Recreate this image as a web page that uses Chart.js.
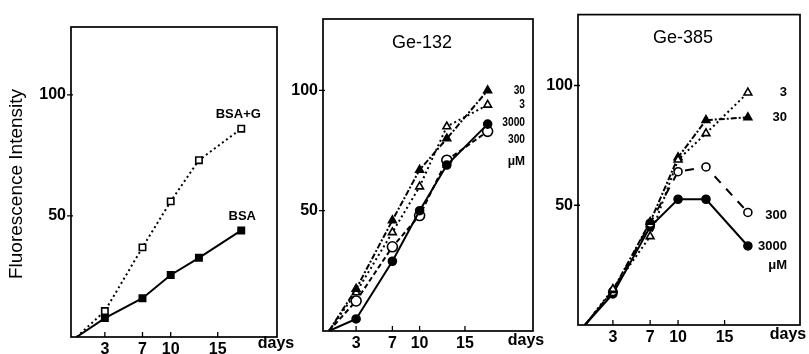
<!DOCTYPE html>
<html>
<head>
<meta charset="utf-8">
<script src="https://cdn.jsdelivr.net/npm/chart.js@4"></script>
<style>
  html, body { margin: 0; padding: 0; background: #fff; }
  body { width: 809px; height: 354px; position: relative; overflow: hidden; }
  canvas { position: absolute; top: 0; }
</style>
</head>
<body>
<canvas id="c1" width="300" height="354" style="left:0px"></canvas>
<canvas id="c2" width="280" height="354" style="left:270px"></canvas>
<canvas id="c3" width="269" height="354" style="left:540px"></canvas>
<script>
// sampling days (day 0 = origin, no marker)
const days = [0, 3, 7, 10, 13, 17.5];
const xTicks = [3, 7, 10, 15];
const yTicks = [50, 100];

// panel 1 - BSA glycation
const bsaG = [0, 10.7, 37, 56, 73, 86];
const bsa = [0, 7.8, 16, 25.6, 32.7, 44];

// panel 2 - Ge-132 (uM)
const ge132_30 = [0, 17.5, 46, 67, 80, 100];
const ge132_3 = [0, 16, 41, 60, 85, 94];
const ge132_3000 = [0, 5, 29, 50, 69, 86];
const ge132_300 = [0, 12.5, 35, 48, 71, 83];

// panel 3 - Ge-385 (uM)
const ge385_3 = [0, 15, 37, 69, 80, 97];
const ge385_30 = [0, 14.5, 43, 70, 85.5, 86.7];
const ge385_300 = [0, 14, 42.5, 64, 66, 47];
const ge385_3000 = [0, 13, 41, 52.5, 52.5, 33];

const FONT = '"Liberation Sans", Arial, Helvetica, sans-serif';
const YW = 40, XH = 22;

function pts(arr) {
    return days.map((d, i) => ({ x: d, y: arr[i] }));
}

// line + marker style helper
function series(arr, marker, filled, dash, tag, size) {
    return {
        data: pts(arr),
        borderColor: '#000',
        borderWidth: 2,
        borderDash: dash,
        borderCapStyle: 'butt',
        tension: 0,
        pointStyle: marker,
        pointRadius: ctx => ctx.dataIndex === 0 ? 0 : (size || 4.5),
        pointBorderWidth: 1.6,
        pointBorderColor: '#000',
        pointBackgroundColor: filled ? '#000' : '#fff',
        tag: tag
    };
}

const DOT = [2, 3], DASHDOT = [6, 2, 2, 2], DASH = [5, 3], LONGDASH = [9, 8];

// frame, inward x ticks, outward y ticks, free texts, series tags
const deco = {
    id: 'deco',
    afterDraw(chart, args, opts) {
        const c = chart.ctx, a = chart.chartArea;
        const sx = chart.scales.x, sy = chart.scales.y;
        c.save();
        c.strokeStyle = '#000';
        c.lineWidth = 1.7;
        c.strokeRect(a.left, a.top, a.right - a.left, a.bottom - a.top);
        c.lineWidth = 1.3;
        c.beginPath();
        xTicks.forEach(v => {
            const px = sx.getPixelForValue(v);
            c.moveTo(px, a.bottom); c.lineTo(px, a.bottom - 5);
        });
        yTicks.forEach(v => {
            const py = sy.getPixelForValue(v);
            c.moveTo(a.left - 4, py); c.lineTo(a.left + 2, py);
        });
        c.stroke();
        c.fillStyle = '#000';
        c.textBaseline = 'middle';
        (opts.texts || []).forEach(t => {
            c.save();
            c.font = t.font;
            c.textAlign = t.align || 'center';
            c.translate(t.x, t.y);
            if (t.rot) c.rotate(t.rot);
            c.scale(t.sx || 1, 1);
            c.fillText(t.text, 0, 0);
            c.restore();
        });
        chart.data.datasets.forEach((ds, i) => {
            if (!ds.tag) return;
            const meta = chart.getDatasetMeta(i);
            const last = meta.data[meta.data.length - 1];
            const tg = ds.tag;
            c.save();
            c.font = opts.tagFont;
            c.textAlign = tg.align || 'center';
            const x = tg.align === 'right' ? a.right + tg.dx : last.x + tg.dx;
            c.translate(x, last.y + tg.dy);
            c.scale(opts.tagScale || 1, 1);
            c.fillText(tg.text, 0, 0);
            c.restore();
        });
        c.restore();
    }
};

function panel(id, W, H, area, xr, yMax, datasets, decoOpts) {
    new Chart(document.getElementById(id), {
        type: 'line',
        data: { datasets: datasets },
        options: {
            responsive: false,
            animation: false,
            layout: {
                padding: { left: area[0] - YW, top: area[1], right: W - area[2], bottom: H - area[3] - XH }
            },
            plugins: {
                legend: { display: false },
                tooltip: { enabled: false },
                deco: decoOpts
            },
            scales: {
                x: {
                    type: 'linear',
                    min: xr[0],
                    max: xr[1],
                    afterBuildTicks: s => { s.ticks = xTicks.map(v => ({ value: v })); },
                    afterFit: s => { s.height = XH; },
                    grid: { display: false, drawTicks: false },
                    border: { display: false },
                    ticks: { color: '#000', padding: 3, maxRotation: 0, font: { family: FONT, size: 16, weight: 'bold' } }
                },
                y: {
                    min: 0,
                    max: yMax,
                    afterBuildTicks: s => { s.ticks = yTicks.map(v => ({ value: v })); },
                    afterFit: s => { s.width = YW; },
                    grid: { display: false, drawTicks: false },
                    border: { display: false },
                    ticks: { color: '#000', padding: 5, font: { family: FONT, size: 16, weight: 'bold' } }
                }
            }
        },
        plugins: [deco]
    });
}

// panel 1
panel('c1', 300, 354, [71, 27, 277, 337], [-0.6, 21.3], 128, [
    series(bsaG, 'rect', false, DOT, { text: 'BSA+G', dx: -3, dy: -14 }),
    series(bsa, 'rect', true, [], { text: 'BSA', dx: 1, dy: -14 })
], {
    tagFont: 'bold 13px ' + FONT,
    texts: [
        { text: 'Fluorescence Intensity', x: 17, y: 184, rot: -Math.PI / 2, font: '19px ' + FONT },
        { text: 'days', x: 276, y: 344, font: 'bold 16px ' + FONT }
    ]
});

// panel 2
panel('c2', 280, 354, [53, 19, 263, 331], [-0.65, 22.5], 129.7, [
    series(ge132_30, 'triangle', true, DASHDOT, { text: '30', dx: -8, dy: 0, align: 'right' }),
    series(ge132_3, 'triangle', false, DOT, { text: '3', dx: -8, dy: 0, align: 'right' }),
    series(ge132_3000, 'circle', true, [], { text: '3000', dx: -8, dy: -1, align: 'right' }, 4),
    series(ge132_300, 'circle', false, DASH, { text: '300', dx: -8, dy: 8, align: 'right' }, 5)
], {
    tagFont: 'bold 12px ' + FONT,
    tagScale: 0.85,
    texts: [
        { text: 'Ge-132', x: 152, y: 43, font: '18px ' + FONT },
        { text: '\u03bcM', x: 255, y: 162, align: 'right', font: 'bold 12px ' + FONT },
        { text: 'days', x: 256, y: 341, font: 'bold 16px ' + FONT }
    ]
});

// panel 3
panel('c3', 269, 354, [38, 14, 260, 325], [-0.75, 23.1], 129.6, [
    series(ge385_3, 'triangle', false, DOT, { text: '3', dx: -13, dy: 0, align: 'right' }),
    series(ge385_30, 'triangle', true, DASHDOT, { text: '30', dx: -13, dy: 0, align: 'right' }),
    series(ge385_300, 'circle', false, LONGDASH, { text: '300', dx: -13, dy: 3, align: 'right' }, 4),
    series(ge385_3000, 'circle', true, [], { text: '3000', dx: -13, dy: 0, align: 'right' }, 4)
], {
    tagFont: 'bold 13px ' + FONT,
    texts: [
        { text: 'Ge-385', x: 143, y: 38, font: '18px ' + FONT },
        { text: '\u03bcM', x: 247, y: 265, align: 'right', font: 'bold 13px ' + FONT },
        { text: 'days', x: 248, y: 335, font: 'bold 16px ' + FONT }
    ]
});
</script>
</body>
</html>
